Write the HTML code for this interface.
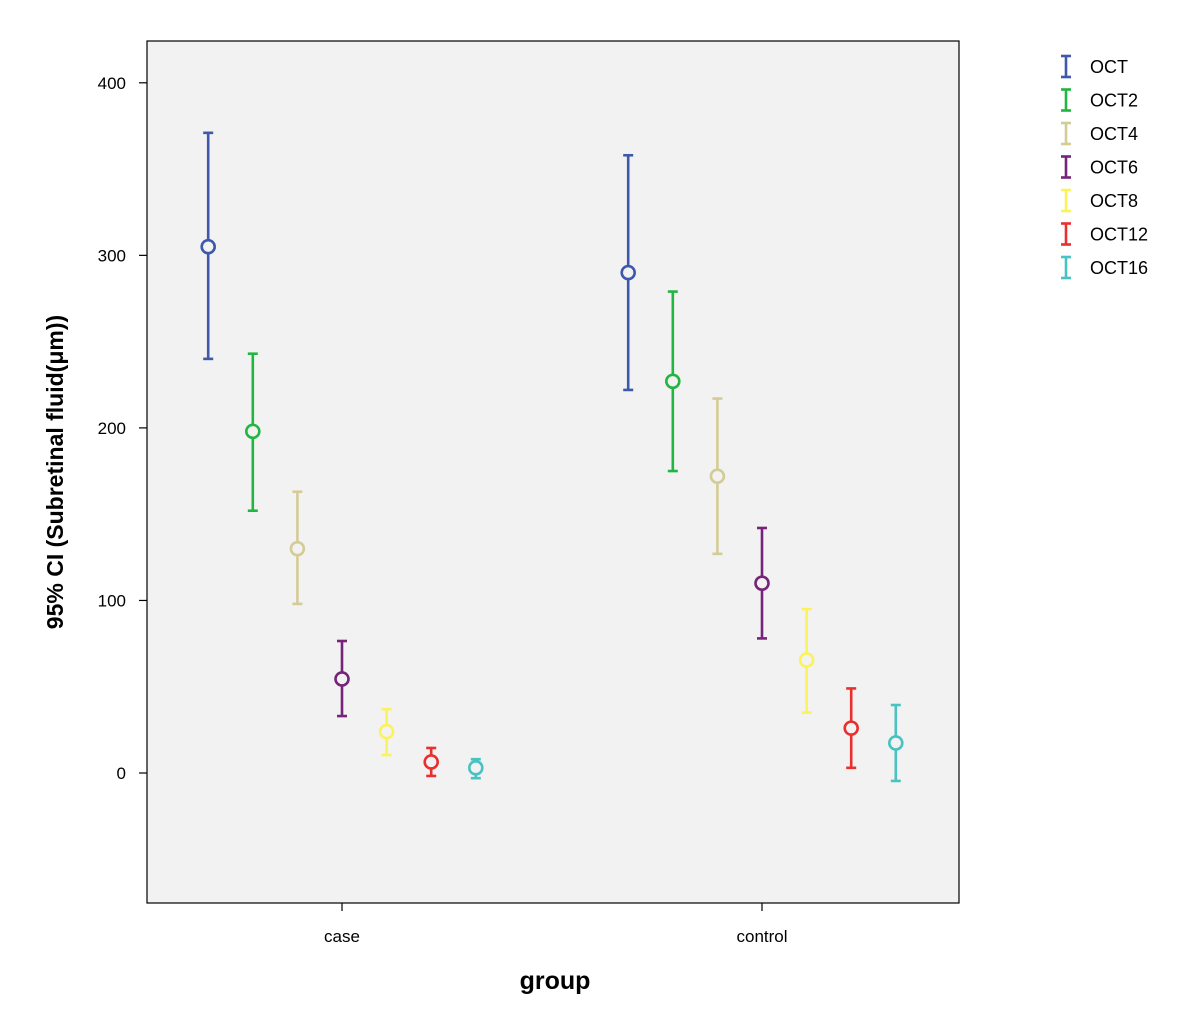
<!DOCTYPE html>
<html><head><meta charset="utf-8"><style>
html,body{margin:0;padding:0;background:#fff;}
svg{display:block;font-family:"Liberation Sans",Arial,sans-serif;}
</style></head><body>
<svg id="chart" width="1185" height="1015">
<rect x="147" y="41" width="812" height="862" fill="#f2f2f2" stroke="#000" stroke-width="1.2"/>
<g id="axes"></g>
<g id="marks"></g>
<g id="legend"></g>
<text x="0" y="0" transform="translate(63,472) rotate(-90)" text-anchor="middle" font-size="23" font-weight="bold">95% CI (Subretinal fluid(μm))</text>
<text x="555" y="989" text-anchor="middle" font-size="25" font-weight="bold">group</text>
</svg>
<script>
const categories = ["case","control"];
const seriesNames = ["OCT","OCT2","OCT4","OCT6","OCT8","OCT12","OCT16"];
const seriesColors = ["#3e58ac","#21b640","#d4cc96","#76247a","#fbf35a","#e8302f","#47c3c1"];
const means = [[305,198,130,54.5,24,6.4,3],[290,227,172,110,65.5,26,17.4]];
const lows = [[240,152,98,33,10.4,-1.7,-3],[222,175,127,78,35,3,-4.6]];
const highs = [[371,243,163,76.5,37,14.5,8],[358,279,217,142,95,49,39.4]];
const yTicks = [0,100,200,300,400];

const NS="http://www.w3.org/2000/svg";
function y(v){return 773 - v*1.7255;}
function catX(i){return 342 + i*420;}
function sx(ci,si){return catX(ci) + (si-3)*44.6;}
function mk(tag,attrs,parent){const e=document.createElementNS(NS,tag);for(const k in attrs)e.setAttribute(k,attrs[k]);parent.appendChild(e);return e;}
const axes=document.getElementById('axes'),marks=document.getElementById('marks'),legend=document.getElementById('legend');
yTicks.forEach(t=>{
  const l=mk('line',{x1:139,x2:147,y1:y(t),y2:y(t),stroke:'#000','stroke-width':1.2},axes);
  
  
  const tx=mk('text',{x:126,y:y(t)+6,'text-anchor':'end','font-size':17},axes);
  tx.textContent=t;
  
  
});
categories.forEach((c,i)=>{
  const l=mk('line',{x1:catX(i),x2:catX(i),y1:903,y2:911,stroke:'#000','stroke-width':1.2},axes);
  
  
  const tx=mk('text',{x:catX(i),y:942,'text-anchor':'middle','font-size':17},axes);
  tx.textContent=c;
  
  
});
categories.forEach((c,ci)=>{
  seriesNames.forEach((s,si)=>{
    const x=sx(ci,si),col=seriesColors[si];
    const g=mk('g',{stroke:col,'stroke-width':2.6,fill:'none'},marks);
    
    
    mk('line',{x1:x,x2:x,y1:y(lows[ci][si]),y2:y(highs[ci][si])},g);
    mk('line',{x1:x-5,x2:x+5,y1:y(lows[ci][si]),y2:y(lows[ci][si])},g);
    mk('line',{x1:x-5,x2:x+5,y1:y(highs[ci][si]),y2:y(highs[ci][si])},g);
    mk('circle',{cx:x,cy:y(means[ci][si]),r:6.5,fill:'#f2f2f2'},g);
  });
});
seriesNames.forEach((s,i)=>{
  const yy=66+i*33.5,col=seriesColors[i];
  const g=mk('g',{},legend);
  
  
  mk('line',{x1:1066,x2:1066,y1:yy-10,y2:yy+11,stroke:col,'stroke-width':2.6},g);
  mk('line',{x1:1061,x2:1071,y1:yy-10,y2:yy-10,stroke:col,'stroke-width':2.6},g);
  mk('line',{x1:1061,x2:1071,y1:yy+11,y2:yy+11,stroke:col,'stroke-width':2.6},g);
  const t=mk('text',{x:1090,y:yy+7,'font-size':18},g);
  t.textContent=s;
});
</script>
</body></html>
